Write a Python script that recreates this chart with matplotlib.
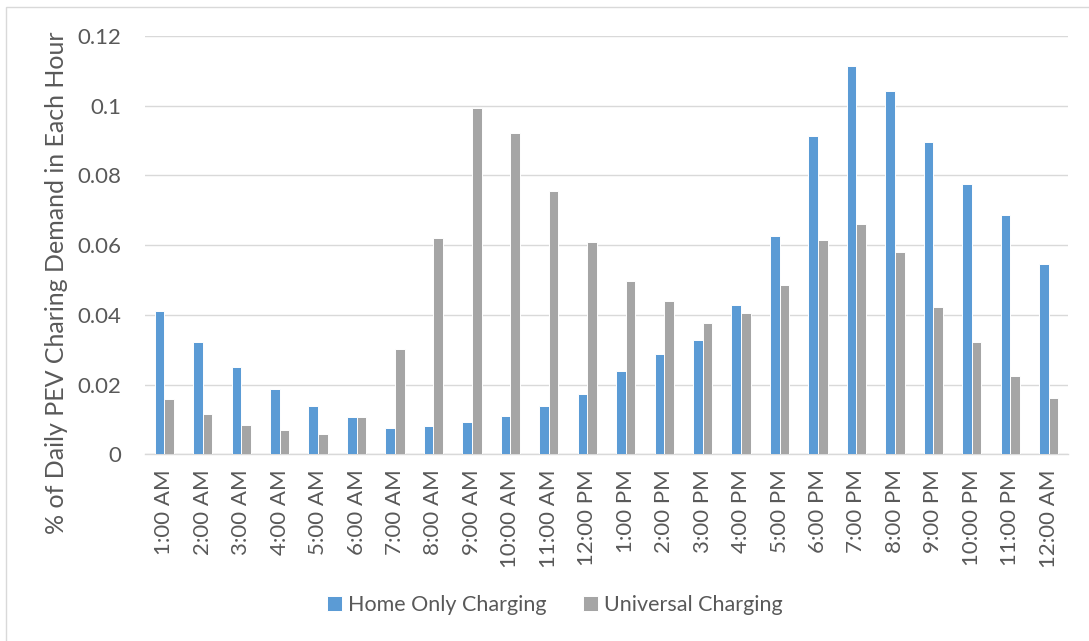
import matplotlib
matplotlib.use("Agg")
import matplotlib.pyplot as plt
import numpy as np
from matplotlib.patches import Rectangle

hours = ["1:00 AM", "2:00 AM", "3:00 AM", "4:00 AM", "5:00 AM", "6:00 AM",
         "7:00 AM", "8:00 AM", "9:00 AM", "10:00 AM", "11:00 AM", "12:00 PM",
         "1:00 PM", "2:00 PM", "3:00 PM", "4:00 PM", "5:00 PM", "6:00 PM",
         "7:00 PM", "8:00 PM", "9:00 PM", "10:00 PM", "11:00 PM", "12:00 AM"]
home_only = [0.0412, 0.0322, 0.0250, 0.0187, 0.0139, 0.0106, 0.0076, 0.0082,
             0.0094, 0.0111, 0.0139, 0.0173, 0.0239, 0.0288, 0.0329, 0.0428,
             0.0625, 0.0914, 0.1113, 0.1042, 0.0895, 0.0775, 0.0687, 0.0545]
universal = [0.0159, 0.0117, 0.0084, 0.0069, 0.0058, 0.0106, 0.0301, 0.0620,
             0.0993, 0.0921, 0.0755, 0.0608, 0.0497, 0.0440, 0.0378, 0.0404,
             0.0485, 0.0614, 0.0660, 0.0580, 0.0423, 0.0322, 0.0224, 0.0162]
yticks = [0, 0.02, 0.04, 0.06, 0.08, 0.1, 0.12]
ytick_labels = ["0", "0.02", "0.04", "0.06", "0.08", "0.1", "0.12"]

plt.rcParams['font.family'] = ['Lato', 'DejaVu Sans']
TXT = '#595959'
GRID = '#D9D9D9'

W, H = 1089, 641
fig = plt.figure(figsize=(W / 100, H / 100), dpi=100)
fig.patches.append(Rectangle((6 / W, -0.01), 1.05, 1 - 7 / H + 0.01,
                             transform=fig.transFigure, fill=False,
                             edgecolor=GRID, linewidth=1.0))

ax = fig.add_axes([145 / W, (H - 454.3) / H, (1068 - 145) / W, (454.3 - 36) / H])
x = np.arange(len(hours))
bw = 0.25
ax.bar(x - bw / 2, home_only, bw, color='#5B9BD5', edgecolor='white',
       linewidth=0.7, label='Home Only Charging', zorder=3)
ax.bar(x + bw / 2, universal, bw, color='#A5A5A5', edgecolor='white',
       linewidth=0.7, label='Universal Charging', zorder=3)

ax.set_xlim(-0.5, len(hours) - 0.5)
ax.set_ylim(0, 0.12)
ax.set_yticks(yticks)
ax.set_yticklabels(ytick_labels)
ax.set_xticks(x)
ax.set_xticklabels(hours, rotation=90)
ax.grid(axis='y', color=GRID, linewidth=1.0, zorder=0)
for s in ['top', 'right', 'left']:
    ax.spines[s].set_visible(False)
ax.spines['bottom'].set_color(GRID)
ax.spines['bottom'].set_linewidth(1.0)
ax.tick_params(axis='y', length=0, pad=17, labelsize=16, labelcolor=TXT)
ax.tick_params(axis='x', length=0, pad=11, labelsize=16, labelcolor=TXT)

fig.text(57 / W, (H - 283) / H, "% of Daily PEV Charing Demand in Each Hour",
         rotation=90, ha='center', va='center', fontsize=18, color=TXT)

leg = fig.legend(loc='center', bbox_to_anchor=(555 / W, (H - 605) / H),
                 ncol=2, frameon=False, fontsize=15.5, labelcolor=TXT,
                 handlelength=0.68, handleheight=0.68, handletextpad=0.3,
                 columnspacing=1.7)

fig.savefig("out.png", dpi=100)
